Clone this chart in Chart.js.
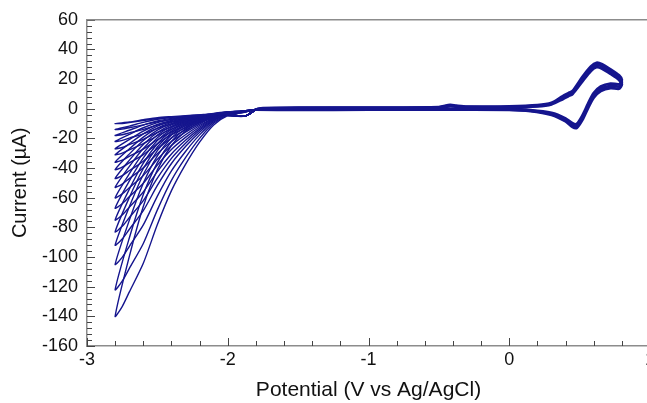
<!DOCTYPE html>
<html>
<head>
<meta charset="utf-8">
<script src="https://cdn.jsdelivr.net/npm/chart.js@4/dist/chart.umd.min.js"></script>
<style>
    html, body { margin: 0; padding: 0; background: #ffffff; overflow: hidden; }
    #wrap { position: relative; width: 665px; height: 403px; }
</style>
</head>
<body>
<div id="wrap"><canvas id="cvChart"></canvas></div>
<script>
// ---------------- Data ---------------------------------------------------
// Potential (V) for the negative-side loops: sweep to -2.8 then back
var potentialLeft = [ -1.8, -1.88, -2.0, -2.1, -2.2, -2.3, -2.4, -2.5, -2.6, -2.7, -2.8,
                      -2.75, -2.7, -2.6, -2.5, -2.4, -2.3, -2.2, -2.1, -2.0, -1.9, -1.8 ] ;

// Current (uA) for each cycle on the negative side
var cycle01 = [ -0.5, -5, -3.5, -3.5, -4.1, -4.7, -5.3, -6.0, -7.4, -8.9, -10,
                -9.9, -9.3, -8.0, -6.6, -5.8, -5.0, -4.3, -3.1, -2.0, -1.5, -0.5 ] ;
var cycle02 = [ -0.5, -5, -3.6, -3.6, -4.2, -5.0, -5.9, -7.1, -9.2, -11.7, -14,
                -13.7, -12.8, -10.9, -8.8, -7.3, -6.0, -4.8, -3.4, -2.1, -1.6, -0.5 ] ;
var cycle03 = [ -0.5, -5, -3.6, -3.7, -4.4, -5.3, -6.5, -8.2, -11.0, -14.5, -18,
                -17.5, -16.3, -13.9, -11.0, -8.8, -7.0, -5.4, -3.6, -2.2, -1.6, -0.5 ] ;
var cycle04 = [ -0.5, -5, -3.6, -3.8, -4.6, -5.6, -7.1, -9.3, -12.8, -17.3, -22,
                -21.3, -19.8, -16.9, -13.2, -10.3, -8.0, -6.0, -3.8, -2.3, -1.6, -0.5 ] ;
var cycle05 = [ -0.5, -5, -3.7, -3.9, -4.8, -6.0, -7.9, -10.6, -15.1, -20.8, -27,
                -26.1, -24.2, -20.6, -16.0, -12.2, -9.3, -6.7, -4.1, -2.4, -1.7, -0.5 ] ;
var cycle06 = [ -0.5, -5, -3.7, -4.0, -4.9, -6.3, -8.5, -11.7, -16.9, -23.6, -31,
                -29.9, -27.7, -23.5, -18.2, -13.7, -10.3, -7.2, -4.4, -2.5, -1.7, -0.5 ] ;
var cycle07 = [ -0.5, -5, -3.8, -4.1, -5.1, -6.7, -9.2, -13.1, -19.1, -27.1, -36,
                -34.6, -32.1, -27.2, -20.9, -15.6, -11.5, -7.9, -4.7, -2.6, -1.8, -0.5 ] ;
var cycle08 = [ -0.5, -5, -3.8, -4.2, -5.3, -7.1, -10.0, -14.4, -21.4, -30.6, -41,
                -39.4, -36.5, -30.9, -23.7, -17.5, -12.8, -8.6, -5.0, -2.7, -1.8, -0.5 ] ;
var cycle09 = [ -0.5, -5, -3.9, -4.3, -5.6, -7.6, -10.9, -16.0, -24.1, -34.8, -47,
                -45.1, -41.8, -35.4, -27.0, -19.8, -14.3, -9.5, -5.3, -2.8, -1.9, -0.5 ] ;
var cycle10 = [ -0.5, -5, -4.0, -4.4, -5.8, -8.1, -11.8, -17.7, -26.8, -39.0, -53,
                -50.8, -47.1, -39.8, -30.3, -22.1, -15.8, -10.3, -5.7, -2.9, -2.0, -0.5 ] ;
var cycle11 = [ -0.5, -5, -4.0, -4.5, -6.1, -8.7, -12.8, -19.5, -29.9, -43.9, -60,
                -57.4, -53.3, -45.0, -34.1, -24.8, -17.5, -11.3, -6.1, -3.0, -2.0, -0.5 ] ;
var cycle12 = [ -0.5, -5, -4.1, -4.7, -6.4, -9.2, -13.9, -21.4, -33.1, -48.8, -67,
                -64.1, -59.4, -50.2, -38.0, -27.4, -19.3, -12.3, -6.5, -3.2, -2.1, -0.5 ] ;
var cycle13 = [ -0.5, -5, -4.2, -4.8, -6.7, -9.9, -15.1, -23.6, -36.7, -54.4, -75,
                -71.7, -66.5, -56.1, -42.4, -30.5, -21.3, -13.4, -7.0, -3.3, -2.2, -0.5 ] ;
var cycle14 = [ -0.5, -5, -4.3, -5.0, -7.0, -10.5, -16.3, -25.8, -40.3, -60.0, -83,
                -79.3, -73.5, -62.0, -46.8, -33.5, -23.3, -14.5, -7.5, -3.5, -2.3, -0.5 ] ;
var cycle15 = [ -0.5, -5, -4.3, -5.2, -7.4, -11.2, -17.6, -28.2, -44.3, -66.3, -92,
                -87.8, -81.4, -68.7, -51.7, -36.9, -25.5, -15.8, -8.0, -3.7, -2.3, -0.5 ] ;
var cycle16 = [ -0.5, -5, -4.5, -5.4, -7.9, -12.3, -19.6, -31.7, -50.2, -75.4, -105,
                -100.2, -92.9, -78.3, -58.9, -41.9, -28.8, -17.6, -8.8, -3.9, -2.5, -0.5 ] ;
var cycle17 = [ -0.5, -5, -4.6, -5.8, -8.6, -13.6, -22.1, -36.3, -57.8, -87.3, -122,
                -116.3, -107.8, -90.9, -68.2, -48.3, -33.0, -20.0, -9.8, -4.3, -2.6, -0.5 ] ;
var cycle18 = [ -0.5, -5, -4.8, -6.1, -9.3, -15.1, -24.8, -41.1, -65.9, -99.9, -140,
                -133.4, -123.7, -104.2, -78.1, -55.2, -37.5, -22.5, -10.9, -4.6, -2.8, -0.5 ] ;

var leftCycles = [ cycle01, cycle02, cycle03, cycle04, cycle05, cycle06,
                   cycle07, cycle08, cycle09, cycle10, cycle11, cycle12,
                   cycle13, cycle14, cycle15, cycle16, cycle17, cycle18 ] ;

// Potential (V) for the positive side: sweep up to 0.8 then back to -1.8
var potentialRight = [ -1.8, -1.75, -1.5, -1.0, -0.5, -0.42, -0.38, -0.3, 0.0, 0.2, 0.3, 0.38, 0.42,
                       0.45, 0.52, 0.58, 0.62, 0.66, 0.72, 0.78, 0.8,
                       0.78, 0.72, 0.65, 0.6, 0.56, 0.52, 0.48, 0.45, 0.4, 0.3, 0.15, 0.0,
                       -0.5, -1.0, -1.5, -1.8 ] ;

// Current (uA) on the positive side, three overlapping sweeps
var rightSweepA = [ -0.5, 0.3, 0.5, 0.6, 0.9, 2.2, 1.8, 1.2, 1.3, 2.0, 3.5, 7.5, 9.5,
                    11, 20, 27, 29.5, 28.5, 25, 21, 18,
                    15, 15.5, 13.5, 9, 2, -6, -11.5, -11, -7.5, -3.5, -1.2, -0.5,
                    -0.3, -0.3, -0.5, -0.5 ] ;
var rightSweepB = [ -0.5, 0.2, 0.3, 0.4, 0.6, 1.8, 1.5, 1.0, 1.0, 1.6, 3.0, 6.5, 8.5,
                    10, 18.5, 25.5, 28, 27, 23.5, 19.5, 16.5,
                    13.5, 14, 12, 7.5, 0.5, -7.5, -12.8, -12.3, -8.5, -4.2, -1.6, -0.8,
                    -0.6, -0.6, -0.8, -0.5 ] ;
var rightSweepC = [ -0.5, 0.4, 0.7, 0.8, 1.1, 2.6, 2.1, 1.4, 1.6, 2.4, 4.0, 8.5, 10.5,
                    12, 21.5, 28.5, 31, 30, 26.5, 22.5, 19.5,
                    16.5, 17, 15, 10.5, 3.5, -4.5, -10.2, -9.8, -6.5, -2.8, -0.9, -0.3,
                    -0.1, -0.1, -0.3, -0.5 ] ;

var xTickLabels = [ -3, -2, -1, 0, 1 ] ;
var yTickLabels = [ -160, -140, -120, -100, -80, -60, -40, -20, 0, 20, 40, 60 ] ;

// ---------------- Constants ----------------------------------------------
const LINE_COLOR = '#15158e' ;
const AXIS_COLOR = '#8c8c8c' ;
const TICK_COLOR = '#444444' ;
const FONT_FAMILY = '"Liberation Sans", Arial, sans-serif' ;

// ---------------- Helpers ------------------------------------------------
function toPoints( xs, ys ) {
    var pts = [] ;
    for( var i=0; i<xs.length; i++ ) {
        pts.push( { x: xs[i], y: ys[i] } ) ;
    }
    return pts ;
}

function lineDataset( xs, ys, width ) {
    return {
        data            : toPoints( xs, ys ),
        showLine        : true,
        borderColor     : LINE_COLOR,
        backgroundColor : LINE_COLOR,
        borderWidth     : width,
        pointRadius     : 0,
        tension         : 0.25,
        fill            : false
    } ;
}

function getDatasets() {
    var datasets = [] ;
    datasets.push( lineDataset( potentialRight, rightSweepA, 2.8 ) ) ;
    datasets.push( lineDataset( potentialRight, rightSweepB, 2.8 ) ) ;
    datasets.push( lineDataset( potentialRight, rightSweepC, 2.8 ) ) ;
    for( var i=0; i<leftCycles.length; i++ ) {
        datasets.push( lineDataset( potentialLeft, leftCycles[i], 1.4 ) ) ;
    }
    return datasets ;
}

// Ticks that point into the plot, plus the top frame line
var insideTicksPlugin = {
    id : 'insideTicks',
    afterDraw : function( chart ) {
        var ctx  = chart.ctx ;
        var area = chart.chartArea ;
        var xs   = chart.scales.x ;
        var ys   = chart.scales.y ;

        ctx.save() ;
        ctx.strokeStyle = TICK_COLOR ;
        ctx.lineWidth = 1 ;
        ctx.beginPath() ;

        for( var i=0; i<=20; i++ ) {
            var xv = -3 + i * 0.2 ;
            var px = Math.round( xs.getPixelForValue( xv ) ) + 0.5 ;
            var len = ( i % 5 == 0 ) ? 8 : 5 ;
            ctx.moveTo( px, area.bottom ) ;
            ctx.lineTo( px, area.bottom - len ) ;
        }
        for( var j=0; j<=55; j++ ) {
            var yv = -160 + j * 4 ;
            var py = Math.round( ys.getPixelForValue( yv ) ) + 0.5 ;
            var ylen = ( j % 5 == 0 ) ? 8 : 5 ;
            ctx.moveTo( area.left, py ) ;
            ctx.lineTo( area.left + ylen, py ) ;
        }
        ctx.stroke() ;

        ctx.strokeStyle = AXIS_COLOR ;
        ctx.lineWidth = 1.5 ;
        ctx.beginPath() ;
        ctx.moveTo( area.left, area.top ) ;
        ctx.lineTo( area.right + 20, area.top ) ;
        ctx.stroke() ;
        ctx.restore() ;
    }
} ;

// ---------------- Chart --------------------------------------------------
var canvas = document.getElementById( 'cvChart' ) ;
var chart = new Chart( canvas, {
    type : 'scatter',
    data : { datasets : getDatasets() },
    options : {
        responsive : true,
        maintainAspectRatio : false,
        animation : false,
        devicePixelRatio : 1,
        layout : { padding : { top: 18, right: 15, left: 0, bottom: 0 } },
        plugins : {
            legend  : { display : false },
            tooltip : { enabled : false }
        },
        scales : {
            x : {
                type : 'linear',
                min : -3,
                max : 1,
                afterBuildTicks : function( scale ) {
                    scale.ticks = xTickLabels.map( function( v ) { return { value: v } ; } ) ;
                },
                afterFit : function( scale ) { scale.height = 57 ; },
                grid : { display : false, drawTicks : false },
                border : { display : true, color : AXIS_COLOR, width : 1.5 },
                ticks : {
                    color : '#111111',
                    padding : 3,
                    maxRotation : 0,
                    font : { family : FONT_FAMILY, size : 18 }
                },
                title : {
                    display : true,
                    text : 'Potential (V vs Ag/AgCl)',
                    color : '#111111',
                    padding : { top : 0, bottom : 0 },
                    font : { family : FONT_FAMILY, size : 21 }
                }
            },
            y : {
                type : 'linear',
                min : -160,
                max : 60,
                afterBuildTicks : function( scale ) {
                    scale.ticks = yTickLabels.map( function( v ) { return { value: v } ; } ) ;
                },
                afterFit : function( scale ) { scale.width = 87 ; },
                grid : { display : false, drawTicks : false },
                border : { display : true, color : AXIS_COLOR, width : 1.5 },
                ticks : {
                    color : '#111111',
                    padding : 9,
                    font : { family : FONT_FAMILY, size : 18 }
                },
                title : {
                    display : true,
                    text : 'Current (µA)',
                    color : '#111111',
                    padding : { top : 8, bottom : 0 },
                    font : { family : FONT_FAMILY, size : 20 }
                }
            }
        }
    },
    plugins : [ insideTicksPlugin ]
} ) ;
</script>
</body>
</html>
